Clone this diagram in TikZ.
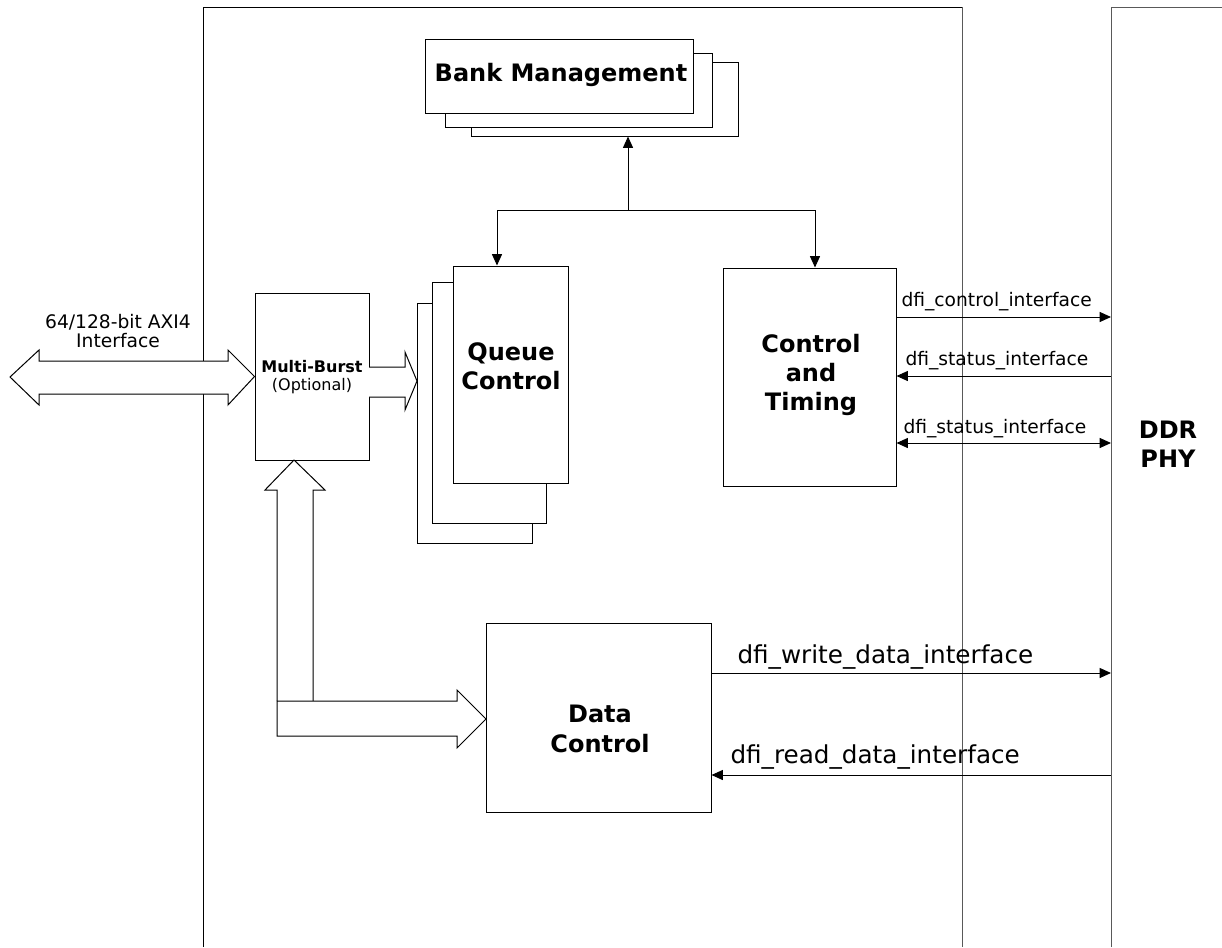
\documentclass[tikz,border=0pt]{standalone}
\usepackage{fontspec}
\setmainfont{DejaVu Sans}
\usetikzlibrary{arrows.meta,fit}
\begin{document}
\begin{tikzpicture}[x=0.75pt,y=-0.75pt,line width=0.75pt,
  >={Triangle[length=8.5pt,width=7.5pt]},
  box/.style={draw,fill=white,inner sep=0pt},
  big/.style={font=\bfseries\fontsize{18}{22}\selectfont,align=center,inner sep=0pt},
  small/.style={font=\fontsize{14}{16}\selectfont,inner sep=0pt,anchor=base west},
  large/.style={font=\fontsize{18.5}{22}\selectfont,inner sep=0pt,anchor=base west},
  blockarrow/.style={draw,fill=white,line join=miter},
  frame/.style={draw=black!65}]
\useasboundingbox (0,0) rectangle (1222,947);
% outer frames
\draw (203,947) -- (203,7) -- (962,7);
\draw[frame] (962,7) -- (962,947);
\draw[frame] (1111,947) -- (1111,7) -- (1222,7);
\coordinate (phy) at (1111,400);
\node[big] (phyt) at (1168,444) {DDR\\PHY};
% bank management stack
\node[box,fit={(471,62) (738,136)}] (bm3) {};
\node[box,fit={(445,53) (712,127)}] (bm2) {};
\node[box,fit={(425,39) (693,113)}] (bm) {};
\node[big] (bmt) at (561,75) {Bank Management};
% queue control stack
\node[box,fit={(417,303) (532,543)}] (q3) {};
\node[box,fit={(432,282) (546,523)}] (q2) {};
\node[box,fit={(453,266) (568,483)}] (q) {};
\node[big] (qt) at (511,366) {Queue\\Control};
% control and timing
\node[box,fit={(723,268) (896,486)}] (ct) {};
\node[big] (ctt) at (811,375) {Control\\and\\Timing};
% multi-burst
\node[box,fit={(255,293) (369,460)}] (mb) {};
\node[font=\fontsize{12}{13.5}\selectfont,align=center,inner sep=0pt] (mbt) at (312,377) {\textbf{Multi-Burst}\\(Optional)};
% data control
\node[box,fit={(486,623) (711,812)}] (dc) {};
\node[big] (dct) at (600,729) {Data\\Control};
% AXI interface double arrow
\draw[blockarrow] (10,377) -- (39,350) -- (39,361) -- (228,361) -- (228,350) -- (mb.west) -- (228,405) -- (228,394) -- (39,394) -- (39,405) -- cycle;
\node[font=\fontsize{14}{14.5}\selectfont,align=center,inner sep=0pt] (axit) at (118,331) {64/128-bit AXI4\\Interface};
% multi-burst to queue
\draw[blockarrow] (369,367) -- (405,367) -- (405,352) -- (417,381) -- (405,410) -- (405,397) -- (369,397);
% multi-burst to data control
\draw[blockarrow] (277,701) -- (277,490) -- (265,490) -- (294,460) -- (325,490) -- (313,490) -- (313,701);
\draw[blockarrow] (277,701) -- (457,701) -- (457,690) -- (486,719) -- (457,748) -- (457,736) -- (277,736) -- cycle;
% bank connectors
\coordinate (j) at (628,210);
\draw[->] (j) -- (j |- bm3.south);
\draw[->] (j) -| ([xshift=-10.125pt]q.north);
\draw[->] (j) -| ([xshift=4.125pt]ct.north);
% dfi interfaces
\draw[->] (ct.east |- 0,317) -- (phy |- 0,317);
\node[small] at (901,306) {dfi\_control\_interface};
\draw[<-] (ct.east |- 0,376) -- (phy |- 0,376);
\node[small] at (905,365) {dfi\_status\_interface};
\draw[<->] (ct.east |- 0,443) -- (phy |- 0,443);
\node[small] at (903,433) {dfi\_status\_interface};
\draw[->] (dc.east |- 0,673) -- (phy |- 0,673);
\node[large] at (737,663) {dfi\_write\_data\_interface};
\draw[<-] (dc.east |- 0,775) -- (phy |- 0,775);
\node[large] at (730,763) {dfi\_read\_data\_interface};
\end{tikzpicture}
\end{document}
